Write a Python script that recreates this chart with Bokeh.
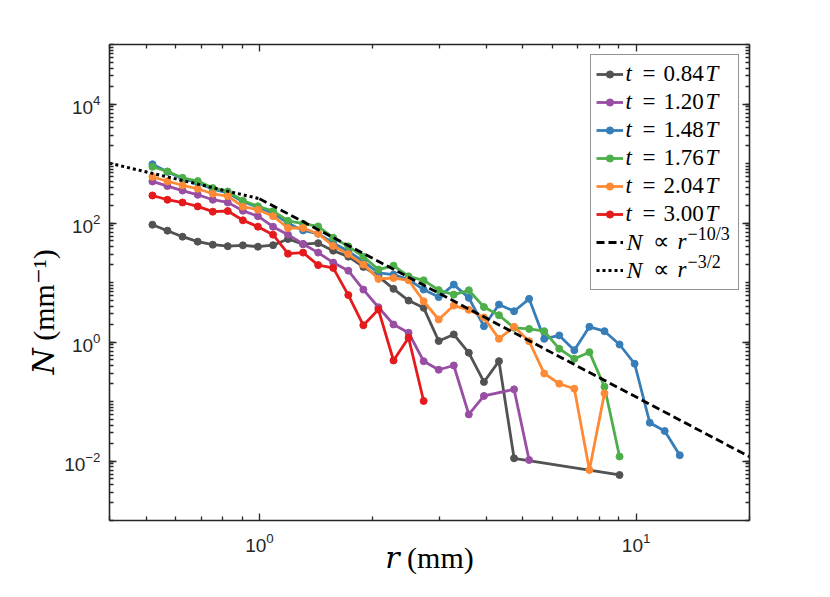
import math
from bokeh.plotting import figure
from bokeh.models import (Range1d, LogAxis, FixedTicker, Label, Legend, LegendItem,
                          CustomJSTickFormatter, Title)
from bokeh.embed import file_html
from bokeh.resources import INLINE

# ---------------- data ----------------
# logarithmic bin centres r (mm)
R = [0.520, 0.570, 0.625, 0.686, 0.752, 0.824, 0.904, 0.991, 1.087, 1.191,
     1.306, 1.432, 1.570, 1.722, 1.888, 2.070, 2.270, 2.489, 2.729, 2.992,
     3.281, 3.597, 3.945, 4.325, 4.743, 5.200, 5.702, 6.252, 6.855, 7.517,
     8.242, 9.038, 9.910, 10.87, 11.91, 13.06]

r_084 = R[:25] + [R[31]]
N_084 = [93.6, 74.3, 58.9, 48.6, 43.2, 40.8, 42.1, 40.0, 42.4, 53.9, 44.1, 45.8,
         34.3, 27.2, 18.3, 12.7, 7.82, 4.97, 3.75, 1.04, 1.34, 0.659, 0.213,
         0.476, 0.0111, 0.00582]

r_120 = R[:23] + [R[24], R[25]]
N_120 = [499, 418, 351, 298, 246, 222, 161, 130, 86.7, 63.7, 44.5, 31.8, 21.6,
         15.8, 7.6, 3.84, 1.97, 1.43, 0.476, 0.342, 0.403, 0.0607, 0.124, 0.160,
         0.0104]

r_148 = R[:36]
N_148 = [970, 726, 554, 475, 369, 322, 228, 184, 146, 99.3, 75.1, 66.1, 46.2,
         33.4, 22.7, 14.5, 13.6, 11.2, 7.60, 5.69, 9.22, 5.52, 1.84, 4.26, 3.29,
         5.31, 1.13, 1.29, 0.728, 1.80, 1.52, 0.908, 0.431, 0.0441, 0.0319, 0.0125]

r_176 = R[:32]
N_176 = [881, 734, 575, 507, 386, 339, 237, 191, 158, 109, 97.3, 87.7, 56.6,
         40.5, 27.2, 16.5, 19.2, 12.7, 10.9, 7.45, 6.27, 7.40, 3.87, 2.82, 1.73,
         1.66, 1.52, 0.769, 0.522, 0.675, 0.177, 0.0119]

r_204 = R[:31]
N_204 = [598, 503, 431, 376, 310, 284, 188, 167, 130, 82.4, 82.4, 66.1, 41.1,
         30.0, 20.0, 11.5, 11.9, 10.9, 4.84, 2.39, 4.10, 3.47, 2.58, 1.13, 1.80,
         1.03, 0.296, 0.199, 0.164, 0.00706, 0.137]

r_300 = R[:19]
N_300 = [290, 246, 221, 190, 155, 159, 111, 86.7, 63.7, 30.5, 31.8, 19.6, 17.6,
         6.15, 1.91, 3.51, 0.489, 1.18, 0.102]

# reference power laws
r_dash = [1.0, 20.0]
N_dash = [256.0, 0.0118]      # N ~ r^(-10/3)
r_dot = [0.4, 1.0]
N_dot = [1012.0, 256.0]       # N ~ r^(-3/2)

series_t = ["0.84", "1.20", "1.48", "1.76", "2.04", "3.00"]
series_r = [r_084, r_120, r_148, r_176, r_204, r_300]
series_N = [N_084, N_120, N_148, N_176, N_204, N_300]
colors = ["#525252", "#984ea3", "#377eb8", "#4daf4a", "#fe8a36", "#e41a1c"]
law_exponents = ["\u221210/3", "\u22123/2"]

x_major = [1, 10]
x_minor = [0.4, 0.5, 0.6, 0.7, 0.8, 0.9, 2, 3, 4, 5, 6, 7, 8, 9, 20]
y_major = [1e-2, 1e0, 1e2, 1e4]
y_minor = [k * 10.0 ** e for e in range(-3, 5) for k in range(1, 10)] + [1e5]

x_label = "\U0001D45F (mm)"
y_label = "\U0001D441 (mm\u207B\u00B9)"

# ---------------- figure ----------------
W, H = 814, 580
FL, FR, FT, FB = 109, 749, 44, 520   # frame in canvas pixels
AX = "#262626"
SERIF = "Liberation Serif, DejaVu Serif"

p = figure(width=W, height=H, x_axis_type="log", y_axis_type="log",
           x_range=Range1d(0.4, 20), y_range=Range1d(1e-3, 1e5),
           output_backend="svg", toolbar_location=None,
           min_border_left=FL, min_border_right=W - FR,
           min_border_top=FT, min_border_bottom=H - FB)
p.xgrid.visible = False
p.ygrid.visible = False
p.outline_line_color = None
p.background_fill_color = "white"
p.border_fill_color = "white"

p.add_layout(LogAxis(), "above")
p.add_layout(LogAxis(), "right")

for ax in p.xaxis:
    ax.ticker = FixedTicker(ticks=x_major, minor_ticks=x_minor)
for ax in p.yaxis:
    ax.ticker = FixedTicker(ticks=y_major, minor_ticks=y_minor)

for ax in p.axis:
    ax.axis_line_color = AX
    ax.axis_line_width = 1.6
    ax.major_tick_line_color = AX
    ax.minor_tick_line_color = AX
    ax.major_tick_line_width = 1.3
    ax.minor_tick_line_width = 1.3
    ax.major_tick_in = 7
    ax.major_tick_out = 0
    ax.minor_tick_in = 4
    ax.minor_tick_out = 0
    ax.major_label_text_font = "Liberation Sans"
    ax.major_label_text_font_size = "19px"
    ax.major_label_text_color = AX

p.above[0].formatter = CustomJSTickFormatter(code="return ''")
p.right[0].formatter = CustomJSTickFormatter(code="return ''")
p.below[0].major_label_standoff = 12
p.left[0].major_label_standoff = 9

xa = p.below[0]
xa.axis_label = x_label
xa.axis_label_text_font = SERIF
xa.axis_label_text_font_size = "30px"
xa.axis_label_text_font_style = "normal"
xa.axis_label_text_color = "black"
xa.axis_label_standoff = -14

# y-axis title: anchored at its start so that its position does not depend on text measuring
p.add_layout(Title(text=y_label, align="left", offset=146, standoff=4,
                   text_font=SERIF, text_font_size="30px", text_font_style="normal",
                   text_color="black"), "left")

items = []
for t, rr, nn, c in zip(series_t, series_r, series_N, colors):
    l = p.line(rr, nn, line_color=c, line_width=2.8)
    s = p.scatter(rr, nn, marker="circle", size=7, fill_color=c, line_color=c)
    items.append(LegendItem(label=" ", renderers=[l, s]))

ld = p.line(r_dash, N_dash, line_color="black", line_width=2.8, line_dash="8 4")
lo = p.line(r_dot, N_dot, line_color="black", line_width=3.0, line_dash="3 3")
items.append(LegendItem(label=" ", renderers=[ld]))
items.append(LegendItem(label=" ", renderers=[lo]))

leg = Legend(items=items, location="top_right", margin=10, padding=5, spacing=0,
             glyph_width=27, glyph_height=18, label_height=28, label_width=105,
             label_standoff=5, label_text_font_size="8px",
             border_line_color=AX, border_line_width=1.6,
             background_fill_alpha=0)
p.add_layout(leg)

# ---------------- legend texts, placed in canvas pixels ----------------
def lab(x, y, text, size, style="normal", baseline="middle"):
    p.add_layout(Label(x=x - FL, y=FB - y, x_units="screen", y_units="screen",
                       text=text, text_font="Liberation Serif", text_font_size=size,
                       text_font_style=style, text_color="black",
                       text_baseline=baseline, text_align="left"))

row0, drow = 73.0, 28.0
for k, t in enumerate(series_t):
    yy = row0 + k * drow
    lab(625, yy, "t", "23px", "italic")
    lab(642, yy, "=", "23px")
    lab(663, yy, t, "23px")
    lab(705, yy, "T", "23px", "italic")
for k, ex in enumerate(law_exponents):
    yy = row0 + (6 + k) * drow
    lab(626, yy, "N", "24px", "italic")
    lab(652, yy, "\u221d", "23px")
    lab(677, yy, "r", "23px", "italic")
    lab(687, yy - 8, ex, "18px")

open("out.html", "w").write(file_html(p, INLINE))
